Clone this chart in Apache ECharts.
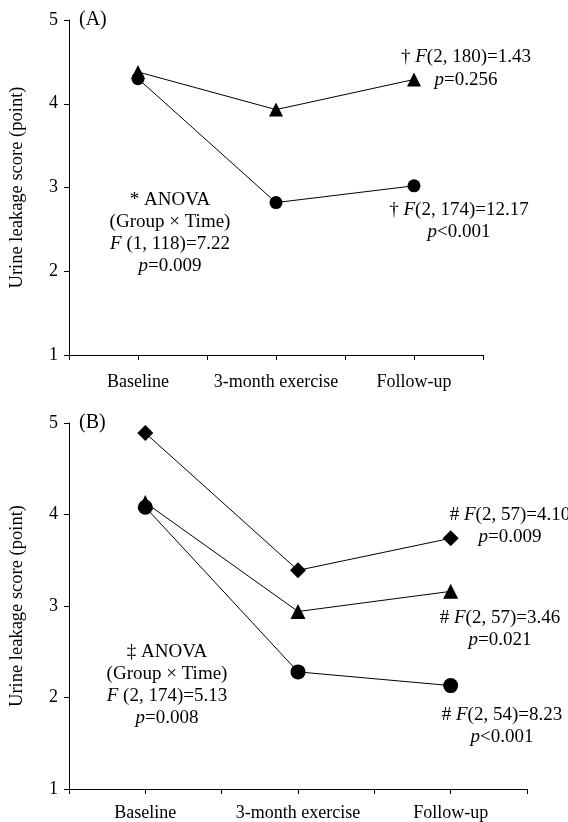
<!DOCTYPE html>
<html>
<head>
<meta charset="utf-8">
<script src="https://cdn.jsdelivr.net/npm/echarts@6/dist/echarts.min.js"></script>
<style>
  html, body { margin: 0; padding: 0; background: #fff; }
  #main { width: 568px; height: 822px; }
</style>
</head>
<body>
<div id="main"></div>
<script>
// categories / ticks
var timePoints = ['Baseline', '3-month exercise', 'Follow-up'];
var yTicks = [1, 2, 3, 4, 5];

// panel A
var aTriangle = [4.38, 3.93, 4.29];
var aCircle = [4.30, 2.82, 3.02];

// panel B
var bDiamond = [4.89, 3.39, 3.74];
var bTriangle = [4.13, 2.94, 3.16];
var bCircle = [4.08, 2.28, 2.13];

// annotation texts
var aAnova = ['* ANOVA', '(Group × Time)', '{i|F} (1, 118)=7.22', '{i|p}=0.009'];
var aTri = ['† {i|F}(2, 180)=1.43', '{i|p}=0.256'];
var aCir = ['† {i|F}(2, 174)=12.17', '{i|p}<0.001'];
var bAnova = ['‡ ANOVA', '(Group × Time)', '{i|F} (2, 174)=5.13', '{i|p}=0.008'];
var bDia = ['# {i|F}(2, 57)=4.10', '{i|p}=0.009'];
var bTri = ['# {i|F}(2, 57)=3.46', '{i|p}=0.021'];
var bCir = ['# {i|F}(2, 54)=8.23', '{i|p}<0.001'];

var FONT = 'Liberation Serif';

// category i sits at x = 2i+1 on a 0..6 axis (ticks at every half step)
function pts(vals) {
  return vals.map(function (v, i) { return [2 * i + 1, v]; });
}

function xAxisFor(grid, margin) {
  return {
    type: 'value', gridIndex: grid, min: 0, max: 6, interval: 1,
    axisLine: { show: true, lineStyle: { color: '#000', width: 1 } },
    axisTick: { show: true, length: 5, lineStyle: { color: '#000' } },
    splitLine: { show: false },
    axisLabel: {
      margin: margin, color: '#000', fontFamily: FONT, fontSize: 18,
      showMinLabel: true, showMaxLabel: true,
      formatter: function (v) {
        return v % 2 === 1 ? timePoints[(v - 1) / 2] : '';
      }
    }
  };
}

function yAxisFor(grid) {
  return {
    type: 'value', gridIndex: grid, min: yTicks[0], max: yTicks[yTicks.length - 1], interval: 1,
    name: 'Urine leakage score (point)', nameLocation: 'middle', nameGap: 42,
    nameTextStyle: { color: '#000', fontFamily: FONT, fontSize: 18.5 },
    axisLine: { show: true, lineStyle: { color: '#000', width: 1 } },
    axisTick: { show: true, length: 5, lineStyle: { color: '#000' } },
    splitLine: { show: false },
    axisLabel: { margin: 11, color: '#000', fontFamily: FONT, fontSize: 18 }
  };
}

function line(grid, vals, symbol, size) {
  return {
    type: 'line', xAxisIndex: grid, yAxisIndex: grid,
    data: pts(vals), symbol: symbol, symbolSize: size,
    itemStyle: { color: '#000' },
    lineStyle: { color: '#000', width: 1 },
    animation: false
  };
}

var rich = { i: { fontStyle: 'italic', fontFamily: FONT, fontSize: 19 } };
function notes(lines, cx, y0, step) {
  return lines.map(function (t, k) {
    return {
      type: 'text', x: cx, y: y0 + k * step,
      style: {
        text: t, textAlign: 'center', textVerticalAlign: 'middle',
        fontFamily: FONT, fontSize: 19, fill: '#000', rich: rich
      }
    };
  });
}

var chart = echarts.init(document.getElementById('main'), null, { renderer: 'canvas' });
chart.setOption({
  backgroundColor: '#fff',
  animation: false,
  grid: [
    { left: 64, top: 20, width: 419, height: 335 },
    { left: 65, top: 423, width: 462, height: 366 }
  ],
  xAxis: [xAxisFor(0, 18), xAxisFor(1, 15)],
  yAxis: [yAxisFor(0), yAxisFor(1)],
  series: [
    line(0, aTriangle, 'triangle', 14),
    line(0, aCircle, 'circle', 13),
    line(1, bDiamond, 'diamond', 16),
    line(1, bTriangle, 'triangle', 15),
    line(1, bCircle, 'circle', 15)
  ],
  graphic: [
    { type: 'text', x: 79, y: 20, style: { text: '(A)', fontFamily: FONT, fontSize: 20, fill: '#000', textVerticalAlign: 'middle' } },
    { type: 'text', x: 79, y: 423, style: { text: '(B)', fontFamily: FONT, fontSize: 20, fill: '#000', textVerticalAlign: 'middle' } }
  ]
    .concat(notes(aAnova, 170, 200, 22))
    .concat(notes(aTri, 466, 57, 23))
    .concat(notes(aCir, 459, 210, 22))
    .concat(notes(bAnova, 167, 652, 22))
    .concat(notes(bDia, 510, 515, 22))
    .concat(notes(bTri, 500, 618, 22))
    .concat(notes(bCir, 502, 715, 22))
});
</script>
</body>
</html>
